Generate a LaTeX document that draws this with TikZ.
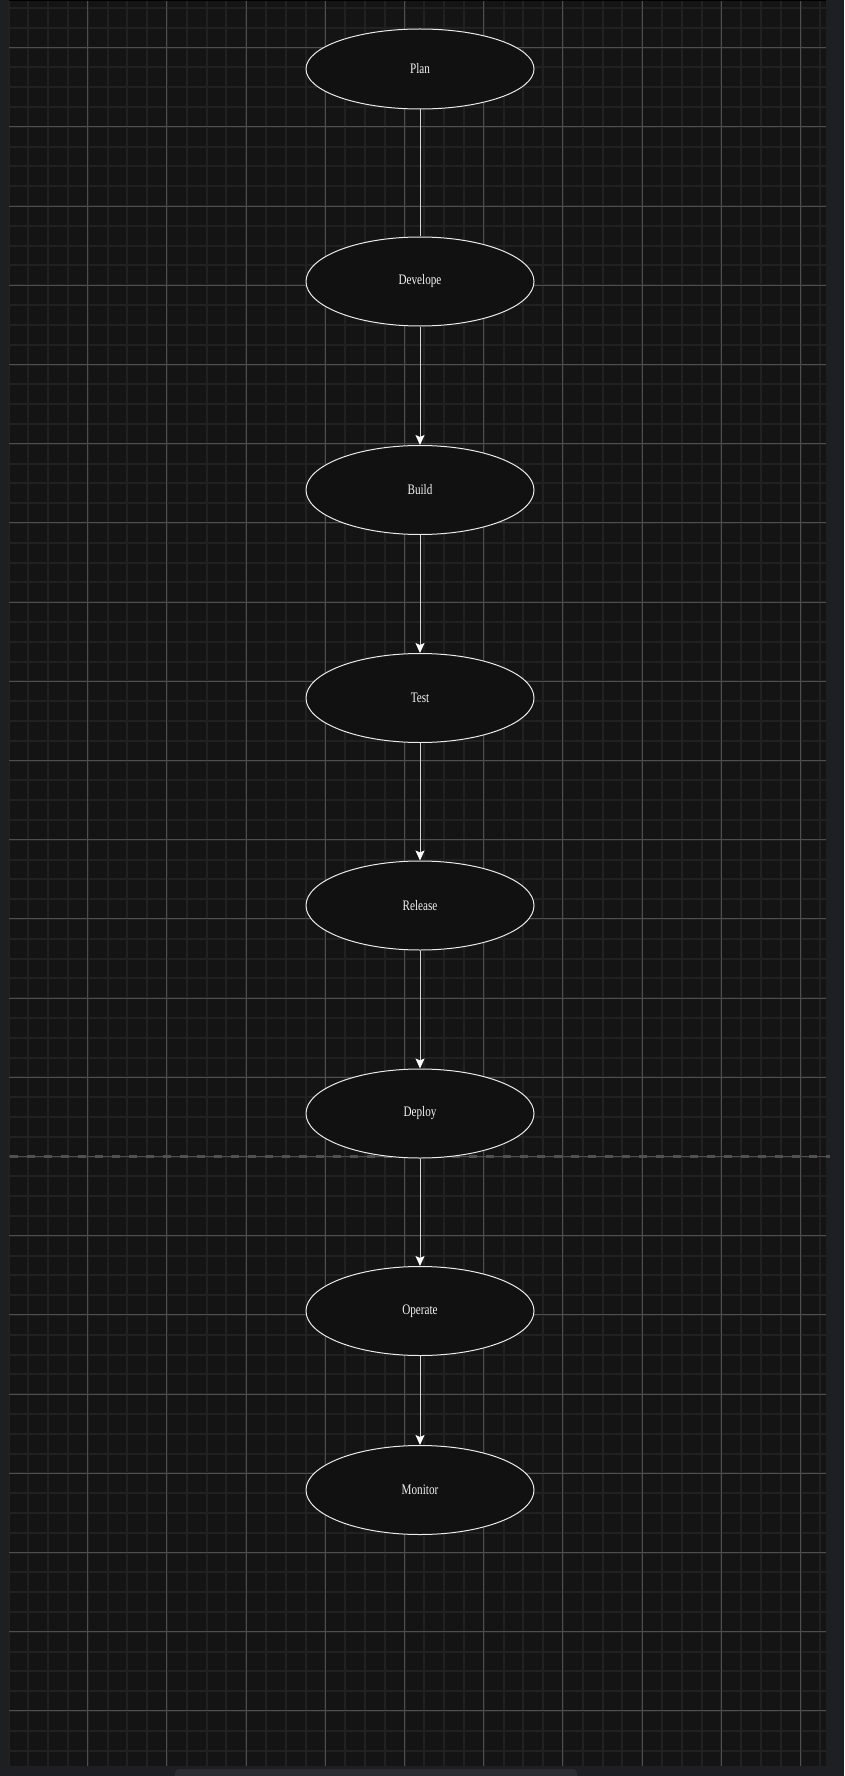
\documentclass[tikz,border=0pt]{standalone}
\usepackage{fontspec}
\newfontfamily\stagefont[FakeStretch=0.77]{Liberation Serif}
\usepackage{xcolor}
\usepackage{tikz}
\usetikzlibrary{shapes.geometric, arrows.meta}

\definecolor{framebg}{HTML}{1E1F22}
\definecolor{canvasbg}{HTML}{141414}
\definecolor{gridminor}{HTML}{212121}
\definecolor{gridmajor}{HTML}{4E4E4E}
\definecolor{pagebreak}{HTML}{505050}
\definecolor{stageline}{HTML}{EAEAEA}
\definecolor{stagefill}{HTML}{111111}
\definecolor{stagetext}{HTML}{F2F2F2}
\definecolor{flowline}{HTML}{D6D6D6}
\definecolor{scrollbar}{HTML}{2C2D30}

\begin{document}
\begin{tikzpicture}[
		    x=1pt, y=-1pt,
		    every node/.style={draw=stageline, fill=stagefill, ellipse, line width=1pt,
		        minimum width=228pt, minimum height=89pt, inner sep=0pt,
		        text=stagetext, font=\stagefont\fontsize{14.5pt}{17pt}\selectfont}
		]
		\tikzset{
		    minorline/.style={draw=gridminor, line width=2pt},
		    majorline/.style={draw=gridmajor, line width=1pt},
		    plainflow/.style={draw=flowline, line width=1pt},
		    flow/.style={plainflow, -{Stealth[length=10pt, width=9pt, inset=2pt, fill=white, color=white]}}
		}
		\useasboundingbox (0,0) rectangle (844,1776);
		% frame and canvas
		\fill[framebg] (0,0) rectangle (844,1776);
		\fill[canvasbg] (9,1) rectangle (826,1766);
		\fill[black] (9,0) rectangle (826,1);
		\fill[scrollbar, rounded corners=4pt] (175,1769) rectangle (577,1780);
		% grid
		\foreach \i in {0,...,41}
		    \draw[minorline] ({8.5+\i*19.8},1) -- ({8.5+\i*19.8},1766);
		\foreach \k in {0,...,88}
		    \draw[minorline] (9,{8.1+\k*19.8}) -- (826,{8.1+\k*19.8});
		\foreach \i in {1,...,10}
		    \draw[majorline] ({8.5+\i*79.2},1) -- ({8.5+\i*79.2},1766);
		\foreach \k in {0,...,21}
		    \draw[majorline] (9,{47.7+\k*79.2}) -- (826,{47.7+\k*79.2});
		\draw[pagebreak, line width=3pt, dash pattern=on 8pt off 9pt] (10,1156.5) -- (830,1156.5);
		% stages
		\node[minimum height=80pt] (plan) at (420,69) {Plan};
		\node (develope) at (420,281.5) {Develope};
		\node (build) at (420,490) {Build};
		\node (test) at (420,698) {Test};
		\node (release) at (420,905.5) {Release};
		\node (deploy) at (420,1113.5) {Deploy};
		\node (operate) at (420,1311) {Operate};
		\node (monitor) at (420,1490) {Monitor};
		% connectors
		\draw[plainflow] (plan) -- (develope);
		\draw[flow] (develope) -- (build);
		\draw[flow] (build) -- (test);
		\draw[flow] (test) -- (release);
		\draw[flow] (release) -- (deploy);
		\draw[flow] (deploy) -- (operate);
		\draw[flow] (operate) -- (monitor);
		\end{tikzpicture}
\end{document}
